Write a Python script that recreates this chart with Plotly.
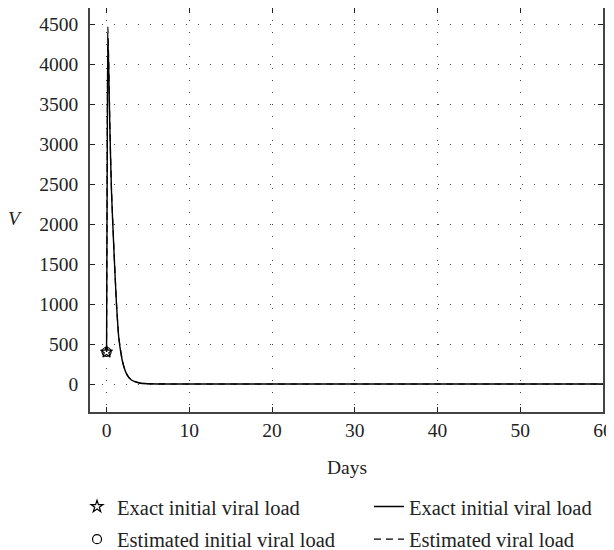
import plotly.graph_objects as go

# Data
days = [0, 0.05, 0.1, 0.16, 0.25, 0.4, 0.6, 0.9, 1.2, 1.5, 2.0, 2.5, 3.0, 4.0, 5.0, 7.0, 10, 20, 30, 40, 50, 60]
v_exact = [400, 1800, 3300, 4310, 4000, 3200, 2400, 1650, 1000, 560, 250, 110, 50, 12, 3, 0.5, 0, 0, 0, 0, 0, 0]
v_est = [400, 1850, 3400, 4460, 4100, 3250, 2430, 1670, 1010, 565, 252, 111, 50, 12, 3, 0.5, 0, 0, 0, 0, 0, 0]
init_day = [0]
init_exact = [400]
init_est = [400]
x_ticks = [0, 10, 20, 30, 40, 50, 60]
y_ticks = [0, 500, 1000, 1500, 2000, 2500, 3000, 3500, 4000, 4500]

font_family = "Liberation Serif"
fsize = 19.5
lsize = 20.5

fig = go.Figure()
fig.add_trace(go.Scatter(x=init_day, y=init_exact, mode="markers", name="Exact initial viral load",
                         legend="legend", legendgroup="a",
                         marker=dict(symbol="star-open", size=9, color="black", line=dict(width=1.2, color="black"))))
fig.add_trace(go.Scatter(x=init_day, y=init_est, mode="markers", name="Estimated initial viral load",
                         legend="legend", legendgroup="b",
                         marker=dict(symbol="circle-open", size=9, color="black", line=dict(width=1.2, color="black"))))
fig.add_trace(go.Scatter(x=days, y=v_exact, mode="lines", name="Exact initial viral load",
                         legend="legend2", legendgroup="c",
                         line=dict(color="black", width=1.4, shape="spline", smoothing=0.6)))
fig.add_trace(go.Scatter(x=days, y=v_est, mode="lines", name="Estimated viral load",
                         legend="legend2", legendgroup="d",
                         line=dict(color="black", width=1.2, dash="7px,5px", shape="spline", smoothing=0.6)))

axis_common = dict(
    showline=True, linecolor="#444", linewidth=1.5, mirror="ticks",
    ticks="inside", ticklen=5, tickcolor="#222", tickwidth=1,
    showgrid=True, gridcolor="#444", gridwidth=1, griddash="1px,11px",
    zeroline=False, tickfont=dict(family=font_family, size=fsize, color="#222"),
    automargin=False,
)

fig.update_xaxes(range=[-2, 60], tickvals=x_ticks, **axis_common)
fig.update_yaxes(range=[-350, 4700], tickvals=y_ticks, ticklabelstandoff=6, **axis_common)

fig.add_annotation(text="Days", xref="paper", yref="paper", x=0.5, y=-0.1386, showarrow=False,
                   font=dict(family=font_family, size=fsize, color="#222"), yanchor="middle")
fig.add_annotation(text="<i>V</i>", xref="paper", yref="paper", x=-0.146, y=0.480, showarrow=False,
                   font=dict(family=font_family, size=fsize, color="#222"), xanchor="center", yanchor="middle")

legend_common = dict(orientation="v", xref="container", yref="container", y=0.1168,
                     xanchor="left", yanchor="top", itemwidth=30, tracegroupgap=3,
                     traceorder="grouped", bgcolor="rgba(0,0,0,0)",
                     font=dict(family=font_family, size=lsize, color="#222"))

fig.update_layout(
    width=606, height=542,
    margin=dict(l=82, r=11, t=0, b=138, autoexpand=False),
    plot_bgcolor="white", paper_bgcolor="white",
    font=dict(family=font_family, size=fsize, color="#222"),
    legend=dict(x=0.1139, **legend_common),
    legend2=dict(x=0.5957, **legend_common),
    showlegend=True,
)

fig.write_html("out.html")
